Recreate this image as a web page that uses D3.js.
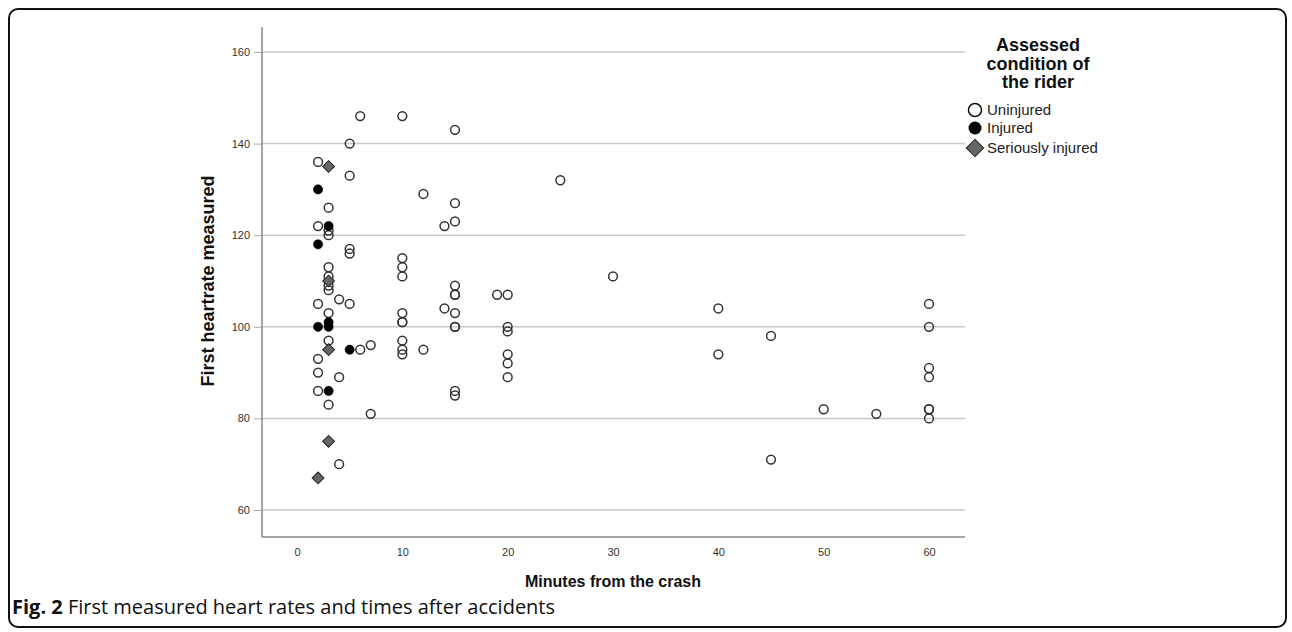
<!DOCTYPE html>
<html>
<head>
<meta charset="utf-8">
<script src="https://cdn.jsdelivr.net/npm/d3@7"></script>
<style>
  body { margin: 0; background: #fff; }
  svg { display: block; }
</style>
</head>
<body>
<div id="chart"></div>
<script>
// minutes / heart rate per group
const uninjuredMin = [2,2,2,2,2,2, 3,3,3,3,3,3,3,3,3,3, 4,4,4, 5,5,5,5,5, 6,6, 7,7,
  10,10,10,10,10,10,10,10,10,10, 12,12, 14,14, 15,15,15,15,15,15,15,15,15,15,15,
  19, 20,20,20,20,20,20, 25, 30, 40,40, 45,45, 50, 55, 60,60,60,60,60,60,60];
const uninjuredHr = [136,122,105,93,90,86, 126,121,120,113,111,109,108,103,97,83, 106,89,70, 140,133,117,116,105, 146,95, 96,81,
  146,115,113,111,103,101,101,97,95,94, 129,95, 122,104, 143,127,123,109,107,107,103,100,100,86,85,
  107, 107,100,99,94,92,89, 132, 111, 104,94, 98,71, 82, 81, 105,100,91,89,82,82,80];

const injuredMin = [2,2,2, 3,3,3,3, 5];
const injuredHr = [130,118,100, 122,101,100,86, 95];

const seriousMin = [2, 3,3,3,3];
const seriousHr = [67, 135,110,95,75];

const xTicks = [0,10,20,30,40,50,60];
const yTicks = [60,80,100,120,140,160];
const legendLabels = ['Uninjured', 'Injured', 'Seriously injured'];

const W = 1292, H = 632;
const svg = d3.select('#chart').append('svg').attr('width', W).attr('height', H);

// outer figure frame
svg.append('rect')
  .attr('x', 9).attr('y', 9).attr('width', 1277).attr('height', 618)
  .attr('rx', 9).attr('fill', 'none').attr('stroke', '#111').attr('stroke-width', 2);

const x = d3.scaleLinear().domain([0, 60]).range([297, 929]);
const y = d3.scaleLinear().domain([60, 160]).range([510, 52]);
const pLeft = 262, pRight = 965, pTop = 27, pBottom = 537;

// gridlines
svg.append('g').selectAll('line').data(yTicks).join('line')
  .attr('x1', pLeft).attr('x2', pRight)
  .attr('y1', d => y(d)).attr('y2', d => y(d))
  .attr('stroke', '#c8c8c8').attr('stroke-width', 1.5);

// axes
const yAxis = svg.append('g').attr('transform', `translate(${pLeft},0)`)
  .call(d3.axisLeft(y).tickValues(yTicks).tickSize(8).tickPadding(4));
const xAxis = svg.append('g').attr('transform', `translate(0,${pBottom})`)
  .call(d3.axisBottom(x).tickValues(xTicks).tickSize(0).tickPadding(11));
[yAxis, xAxis].forEach(a => {
  a.select('.domain').remove();
  a.selectAll('line').attr('stroke', '#aaa');
  a.selectAll('text').attr('font-family', 'Liberation Sans, Arial, sans-serif')
    .attr('font-size', 11).attr('fill', '#333');
});
svg.append('line').attr('x1', pLeft).attr('x2', pLeft).attr('y1', pTop).attr('y2', pBottom)
  .attr('stroke', '#888').attr('stroke-width', 1.5);
svg.append('line').attr('x1', pLeft).attr('x2', pRight).attr('y1', pBottom).attr('y2', pBottom)
  .attr('stroke', '#888').attr('stroke-width', 1.5);

// axis titles
svg.append('text')
  .attr('transform', `translate(214,${(y(60) + y(160)) / 2}) rotate(-90)`)
  .attr('text-anchor', 'middle')
  .attr('font-family', 'Liberation Sans, Arial, sans-serif')
  .attr('font-size', 18).attr('font-weight', 'bold').attr('fill', '#111')
  .text('First heartrate measured');
svg.append('text')
  .attr('x', 613).attr('y', 587)
  .attr('text-anchor', 'middle')
  .attr('font-family', 'Liberation Sans, Arial, sans-serif')
  .attr('font-size', 16).attr('font-weight', 'bold').attr('fill', '#111')
  .text('Minutes from the crash');

// points
const pts = svg.append('g');
pts.selectAll('circle.open').data(d3.zip(uninjuredMin, uninjuredHr)).join('circle')
  .attr('class', 'open')
  .attr('cx', d => x(d[0])).attr('cy', d => y(d[1])).attr('r', 4.4)
  .attr('fill', 'none').attr('stroke', '#333').attr('stroke-width', 1.5);
pts.selectAll('circle.fill').data(d3.zip(injuredMin, injuredHr)).join('circle')
  .attr('class', 'fill')
  .attr('cx', d => x(d[0])).attr('cy', d => y(d[1])).attr('r', 4.6)
  .attr('fill', '#000').attr('stroke', '#000').attr('stroke-width', 0.6);
const diamond = d3.symbol().type(d3.symbolSquare).size(70);
pts.selectAll('path.dia').data(d3.zip(seriousMin, seriousHr)).join('path')
  .attr('class', 'dia')
  .attr('d', diamond)
  .attr('transform', d => `translate(${x(d[0])},${y(d[1])}) rotate(45)`)
  .attr('fill', '#666').attr('stroke', '#222').attr('stroke-width', 1);

// legend
const lg = svg.append('g');
['Assessed', 'condition of', 'the rider'].forEach((t, i) => {
  lg.append('text').attr('x', 1038).attr('y', 51 + i * 18.5)
    .attr('text-anchor', 'middle')
    .attr('font-family', 'Liberation Sans, Arial, sans-serif')
    .attr('font-size', 18).attr('font-weight', 'bold').attr('fill', '#111')
    .text(t);
});
const legY = [110, 128, 148];
lg.append('circle').attr('cx', 975).attr('cy', legY[0]).attr('r', 6.5)
  .attr('fill', '#fff').attr('stroke', '#111').attr('stroke-width', 1.5);
lg.append('circle').attr('cx', 975).attr('cy', legY[1]).attr('r', 6.5)
  .attr('fill', '#000');
lg.append('path').attr('d', d3.symbol().type(d3.symbolSquare).size(150))
  .attr('transform', `translate(975,${legY[2]}) rotate(45)`)
  .attr('fill', '#666').attr('stroke', '#222').attr('stroke-width', 1);
legendLabels.forEach((t, i) => {
  lg.append('text').attr('x', 987).attr('y', legY[i] + 5)
    .attr('font-family', 'Liberation Sans, Arial, sans-serif')
    .attr('font-size', 15).attr('fill', '#222')
    .text(t);
});

// caption
const cap = svg.append('text').attr('x', 12).attr('y', 614)
  .attr('font-family', 'Open Sans, Noto Sans, sans-serif').attr('font-size', 20).attr('fill', '#111');
cap.append('tspan').attr('font-weight', 'bold').text('Fig. 2');
cap.append('tspan').text(' First measured heart rates and times after accidents');
</script>
</body>
</html>
